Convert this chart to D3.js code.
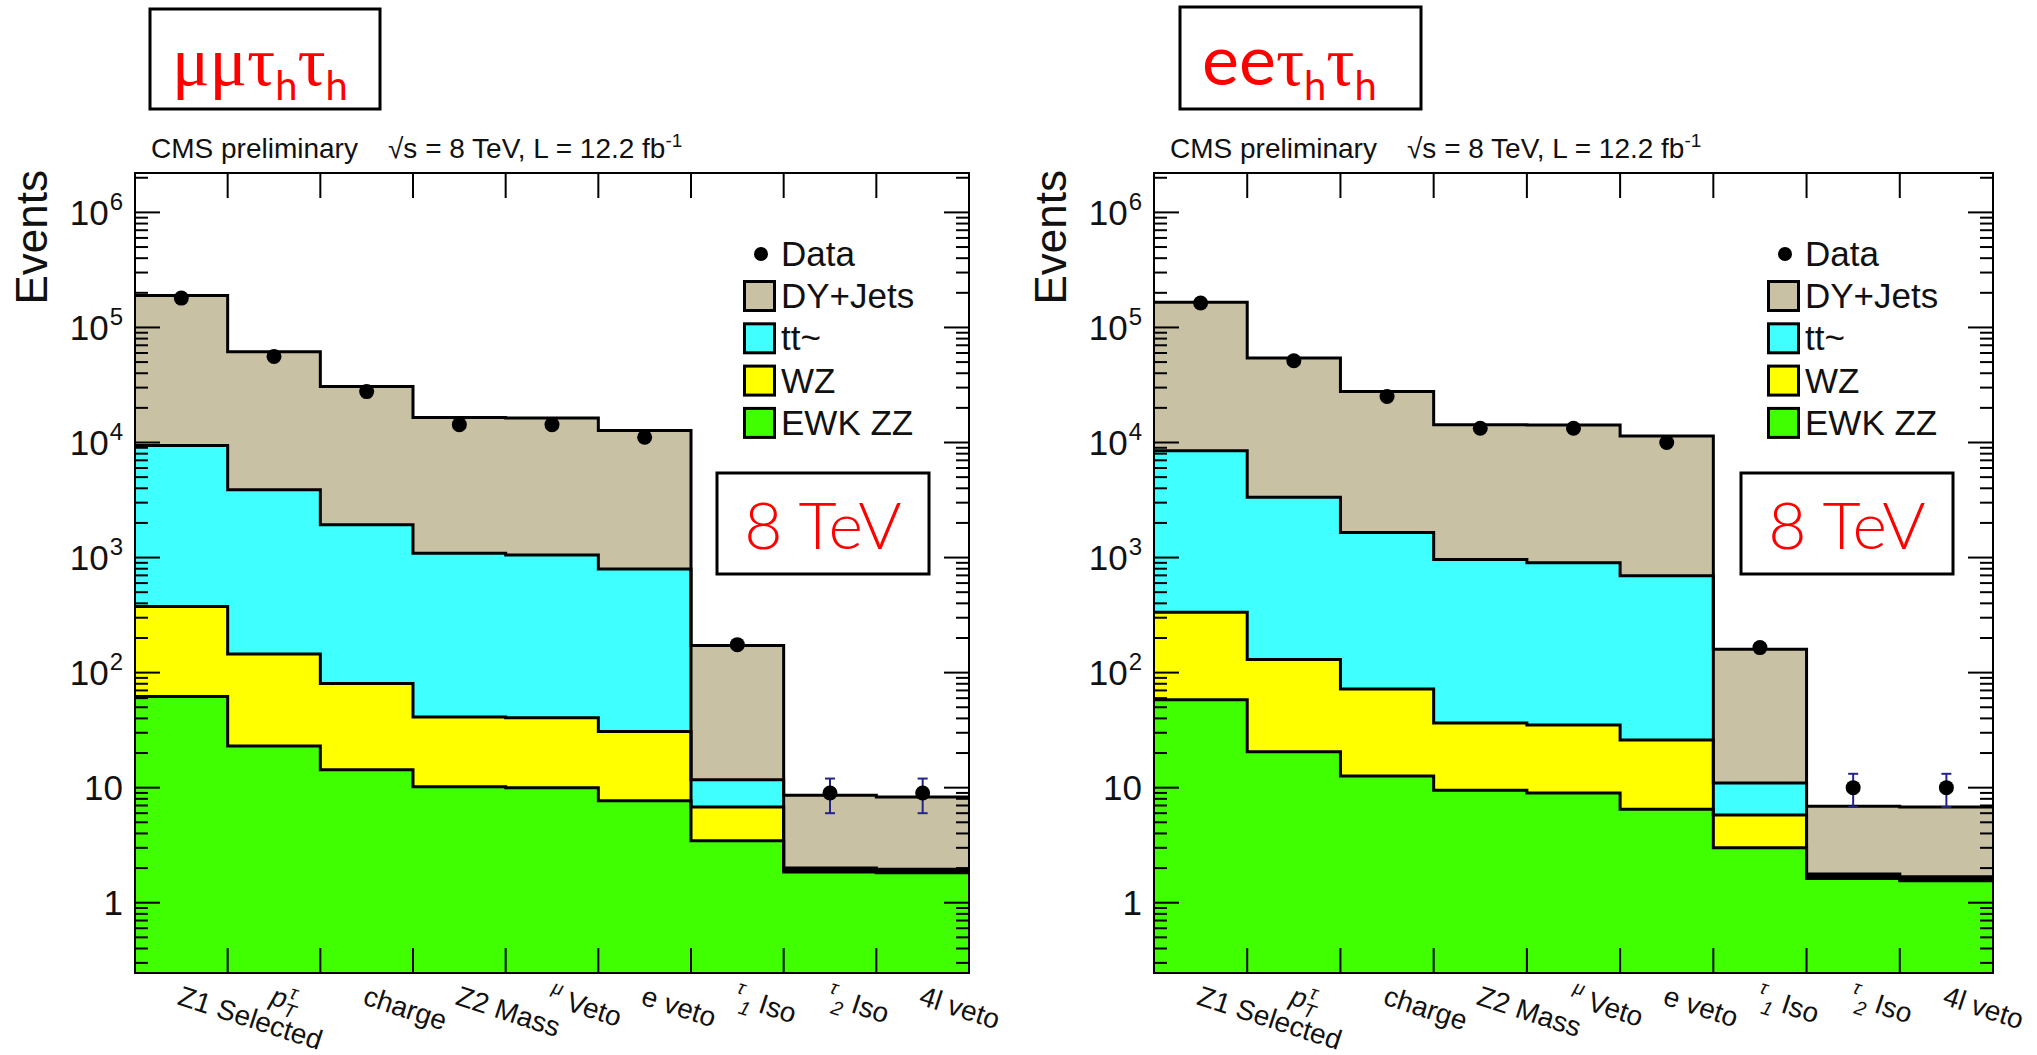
<!DOCTYPE html>
<html>
<head>
<meta charset="utf-8">
<script src="https://cdn.jsdelivr.net/npm/d3@7/dist/d3.min.js"></script>
<style>
    body { margin: 0; background: #fff; }
    svg { display: block; }
</style>
</head>
<body>
<svg id="chart"></svg>
<script>
// cut flow bins ( _x = subscript, ^x = superscript )
const categories = ["Z1 Selected", "p_T^τ", "charge", "Z2 Mass", "^μ Veto", "e veto", "^τ_1 Iso", "^τ_2 Iso", "4l veto"];
const seriesKeys = ["zz", "wz", "tt", "dy"];
const legendNames = ["DY+Jets", "tt~", "WZ", "EWK ZZ"];
const yTickValues = [1, 10, 100, 1e3, 1e4, 1e5, 1e6];
const yTickLabels = ["1", "10", "10^2", "10^3", "10^4", "10^5", "10^6"];

// mu mu tau_h tau_h channel
const mmZZ = [62, 23, 14.3, 10.2, 10.0, 7.7, 3.45, 1.85, 1.82];
const mmWZ = [313, 122, 66, 31, 30.5, 23, 3.35, 0.07, 0.06];
const mmTT = [9025, 3735, 1845, 1049, 1010, 764, 4.9, 0.08, 0.07];
const mmDY = [180600, 57620, 28780, 15410, 15250, 11905, 160, 6.6, 6.35];
const mmData = [180000, 56000, 27700, 14300, 14300, 11100, 175, 9, 9];
const mmErr = [425, 237, 166, 120, 120, 105, 13.2, 3, 3];

// e e tau_h tau_h channel
const eeZZ = [58, 20.5, 12.6, 9.5, 9.0, 6.5, 3.0, 1.62, 1.55];
const eeWZ = [277, 109.5, 59.4, 27, 26, 19.5, 2.8, 0.08, 0.05];
const eeTT = [8135, 3220, 1578, 923.5, 865, 669, 5.2, 0.08, 0.08];
const eeDY = [157530, 50850, 26050, 13340, 13300, 10705, 149, 5.12, 5.12];
const eeData = [163000, 51300, 25100, 13300, 13300, 10000, 165, 10, 10];
const eeErr = [404, 226, 158, 115, 115, 100, 12.8, 3.2, 3.2];

const colors = {dy: "#c9c1a3", tt: "#40ffff", wz: "#ffff00", zz: "#40ff00"};
const sans = "'Liberation Sans', Arial, sans-serif";
const roundFont = "Lato, 'DejaVu Sans', sans-serif";
const isGreek = s => /[\u0370-\u03ff]/.test(s);

// writes a string with one-character sub/superscripts into a text element
function richText(sel, str, size, opts = {}) {
    let parts = [];
    for (let i = 0; i < str.length; i++) {
        let ch = str[i];
        if ((ch === "_" || ch === "^") && i + 1 < str.length) {
            parts.push({t: str[i + 1], kind: ch === "_" ? "sub" : "sup"});
            i++;
        } else {
            let last = parts[parts.length - 1];
            // split runs of greek / latin when a separate greek font is asked for
            let same = last && last.kind === "n" && (!opts.greekFamily || isGreek(last.t) === isGreek(ch));
            if (same) last.t += ch;
            else parts.push({t: ch, kind: "n"});
        }
    }
    let shift = 0;
    parts.forEach((p, i) => {
        let ts = sel.append("tspan").text(p.t);
        let small = size * (opts.smallScale || 0.65);
        let target = p.kind === "sub" ? size * (opts.subShift || 0.25) : p.kind === "sup" ? -size * 0.42 : 0;
        if (target - shift !== 0) ts.attr("dy", target - shift);
        shift = target;
        if (p.kind !== "n") {
            ts.attr("font-size", small);
            if (opts.subFamily) ts.attr("font-family", opts.subFamily);
            else ts.attr("font-style", "italic");
            if (p.kind === "sup" && i > 0 && parts[i - 1].kind === "sub") ts.attr("dx", -small * 0.55);
        } else {
            let next = parts[i + 1];
            if (p.t.length === 1 && next && next.kind === "sub" && !opts.subFamily) ts.attr("font-style", "italic");
            if (opts.greekFamily && isGreek(p.t)) ts.attr("font-family", opts.greekFamily);
        }
    });
}

class CutFlowPlot {
    constructor(_config, _data) {
        this.config = {
            parentElement: _config.parentElement,
            left: _config.left,
            top: 173,
            width: _config.width,
            height: 800,
            title: _config.title,
            titleBox: _config.titleBox,
            titleX: _config.titleX
        };
        this.data = _data;
        this.initVis();
    }

    initVis() {
        let vis = this;
        vis.x = d3.scaleLinear().domain([0, categories.length]).range([0, vis.config.width]);
        vis.y = d3.scaleLog().domain([0.245, 2.2e6]).range([vis.config.height, 0]);
        vis.svg = d3.select(vis.config.parentElement);
        vis.chartArea = vis.svg.append("g")
            .attr("transform", `translate(${vis.config.left},${vis.config.top})`);
        vis.renderVis();
    }

    renderVis() {
        let vis = this;
        let W = vis.config.width, H = vis.config.height;
        let rows = categories.map((c, i) => ({
            zz: vis.data.zz[i], wz: vis.data.wz[i], tt: vis.data.tt[i], dy: vis.data.dy[i]
        }));
        let stacked = d3.stack().keys(seriesKeys)(rows);

        const steps = layer => layer.flatMap((d, i) => [[vis.x(i), d[1]], [vis.x(i + 1), d[1]]]);
        const area = d3.area().x(d => d[0]).y0(H).y1(d => vis.y(d[1]));
        const line = d3.line().x(d => d[0]).y(d => vis.y(d[1]));

        // cumulative histograms, biggest first (THStack style)
        let layers = stacked.slice().reverse();
        vis.chartArea.selectAll(".fill")
            .data(layers)
            .enter()
            .append("path")
            .attr("class", "fill")
            .attr("d", d => area(steps(d)))
            .attr("fill", d => colors[d.key]);
        vis.chartArea.selectAll(".outline")
            .data(layers)
            .enter()
            .append("path")
            .attr("class", "outline")
            .attr("d", d => line(steps(d)))
            .attr("fill", "none")
            .attr("stroke", "#000")
            .attr("stroke-width", 3);

        // frame and ticks
        vis.chartArea.append("rect")
            .attr("width", W).attr("height", H)
            .attr("fill", "none").attr("stroke", "#000").attr("stroke-width", 2);

        let ticks = vis.chartArea.append("g").attr("stroke", "#000").attr("stroke-width", 2);
        d3.range(1, categories.length).forEach(i => {
            ticks.append("line").attr("x1", vis.x(i)).attr("x2", vis.x(i)).attr("y1", H).attr("y2", H - 25);
            ticks.append("line").attr("x1", vis.x(i)).attr("x2", vis.x(i)).attr("y1", 0).attr("y2", 25);
        });
        let yTicks = [];
        for (let d = -1; d <= 6; d++) {
            for (let k = 1; k <= 9; k++) {
                let v = k * Math.pow(10, d);
                if (v >= vis.y.domain()[0] && v <= vis.y.domain()[1]) yTicks.push({v: v, major: k === 1});
            }
        }
        yTicks.forEach(t => {
            let len = t.major ? 25 : 13;
            let yy = vis.y(t.v);
            ticks.append("line").attr("x1", 0).attr("x2", len).attr("y1", yy).attr("y2", yy);
            ticks.append("line").attr("x1", W).attr("x2", W - len).attr("y1", yy).attr("y2", yy);
        });

        // y tick labels
        yTickValues.forEach((v, i) => {
            let parts = yTickLabels[i].split("^");
            let t = vis.chartArea.append("text")
                .attr("x", -12)
                .attr("y", vis.y(v) + 12.5)
                .attr("text-anchor", "end")
                .attr("font-family", sans)
                .attr("font-size", 35)
                .attr("fill", "#111")
                .text(parts[0]);
            if (parts[1]) {
                t.append("tspan").attr("dy", -15).attr("dx", 1).attr("font-size", 24).text(parts[1]);
            }
        });

        vis.chartArea.append("text")
            .attr("transform", "translate(-88,-3) rotate(-90)")
            .attr("text-anchor", "end")
            .attr("font-family", sans)
            .attr("font-size", 44)
            .attr("fill", "#111")
            .text("Events");

        // x labels, tilted
        categories.forEach((c, i) => {
            let cx = (vis.x(i) + vis.x(i + 1)) / 2;
            let t = vis.chartArea.append("text")
                .attr("transform", `translate(${cx - 5},${H + 31}) rotate(18)`)
                .attr("font-family", sans)
                .attr("font-size", 28)
                .attr("fill", "#111");
            richText(t, c, 28, {smallScale: 0.7});
        });

        // data with error bars
        let pts = vis.data.data.map((v, i) => ({
            x: (vis.x(i) + vis.x(i + 1)) / 2, v: v, e: vis.data.err[i]
        }));
        let err = vis.chartArea.append("g").attr("stroke", "#23238c").attr("stroke-width", 2);
        pts.forEach(p => {
            let y0 = vis.y(p.v - p.e), y1 = vis.y(p.v + p.e);
            err.append("line").attr("x1", p.x).attr("x2", p.x).attr("y1", y0).attr("y2", y1);
            err.append("line").attr("x1", p.x - 5).attr("x2", p.x + 5).attr("y1", y0).attr("y2", y0);
            err.append("line").attr("x1", p.x - 5).attr("x2", p.x + 5).attr("y1", y1).attr("y2", y1);
        });
        vis.chartArea.selectAll(".dot")
            .data(pts)
            .enter()
            .append("circle")
            .attr("class", "dot")
            .attr("cx", d => d.x)
            .attr("cy", d => vis.y(d.v))
            .attr("r", 7.5)
            .attr("fill", "#000");

        // legend
        let lg = vis.chartArea.append("g").attr("transform", `translate(${W - 226},0)`);
        lg.append("circle").attr("cx", 18).attr("cy", 81).attr("r", 7).attr("fill", "#000");
        lg.append("text").attr("x", 38).attr("y", 93)
            .attr("font-family", sans).attr("font-size", 35).attr("fill", "#111").text("Data");
        ["dy", "tt", "wz", "zz"].forEach((k, i) => {
            lg.append("rect")
                .attr("x", 1.5).attr("y", 108.5 + i * 42.3)
                .attr("width", 30).attr("height", 29)
                .attr("fill", colors[k]).attr("stroke", "#000").attr("stroke-width", 3);
            lg.append("text").attr("x", 38).attr("y", 135 + i * 42.3)
                .attr("font-family", sans).attr("font-size", 35).attr("fill", "#111")
                .text(legendNames[i]);
        });

        // 8 TeV box
        vis.chartArea.append("rect")
            .attr("x", W - 252).attr("y", 300).attr("width", 212).attr("height", 101)
            .attr("fill", "#fff").attr("stroke", "#000").attr("stroke-width", 3);
        vis.chartArea.append("text")
            .attr("x", W - 146).attr("y", 376)
            .attr("text-anchor", "middle")
            .attr("font-family", roundFont).attr("font-weight", 300)
            .attr("font-size", 66).attr("fill", "#ff0000")
            .text("8 TeV");

        // header line above the frame
        vis.chartArea.append("text")
            .attr("x", 16).attr("y", -15)
            .attr("font-family", sans).attr("font-size", 28).attr("fill", "#111")
            .text("CMS preliminary");
        vis.chartArea.append("text")
            .attr("x", 253).attr("y", -15)
            .attr("font-family", sans).attr("font-size", 28).attr("fill", "#111")
            .text("√s = 8 TeV, L = 12.2 fb")
            .append("tspan").attr("dy", -11).attr("font-size", 19).text("-1");

        // channel title box
        let tb = vis.config.titleBox;
        vis.svg.append("rect")
            .attr("x", tb[0]).attr("y", tb[1]).attr("width", tb[2]).attr("height", tb[3])
            .attr("fill", "#fff").attr("stroke", "#000").attr("stroke-width", 3);
        let tt = vis.svg.append("text")
            .attr("x", vis.config.titleX).attr("y", 85)
            .attr("font-family", roundFont)
            .attr("font-size", 70).attr("fill", "#ff0000");
        richText(tt, vis.config.title, 70, {
            smallScale: 0.57, subShift: 0.22,
            subFamily: roundFont, greekFamily: "'Liberation Serif', serif"
        });
    }
}

d3.select("#chart").attr("width", 2037).attr("height", 1055);

new CutFlowPlot({
    parentElement: "#chart", left: 135, width: 834,
    title: "μμτ_hτ_h", titleBox: [150, 9, 230, 100], titleX: 172
}, {zz: mmZZ, wz: mmWZ, tt: mmTT, dy: mmDY, data: mmData, err: mmErr});

new CutFlowPlot({
    parentElement: "#chart", left: 1154, width: 839,
    title: "eeτ_hτ_h", titleBox: [1180, 7, 241, 102], titleX: 1202
}, {zz: eeZZ, wz: eeWZ, tt: eeTT, dy: eeDY, data: eeData, err: eeErr});
</script>
</body>
</html>
